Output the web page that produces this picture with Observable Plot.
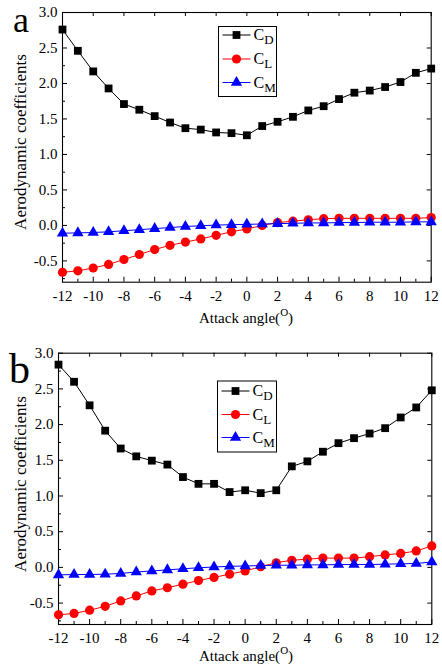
<!DOCTYPE html>
<html><head><meta charset="utf-8">
<script src="https://cdn.jsdelivr.net/npm/d3@7"></script>
<script src="https://cdn.jsdelivr.net/npm/@observablehq/plot@0.6"></script>
<style>
body{margin:0;background:#fff;}
#wrap{position:relative;width:442px;height:666px;font-family:"Liberation Serif","Times New Roman",serif;}
.panel{position:absolute;left:0;}
#overlay{position:absolute;left:0;top:0;pointer-events:none;}
</style></head><body>
<div id="wrap"><div id="pa" class="panel" style="top:0"></div><div id="pb" class="panel" style="top:335px"></div><svg id="overlay" width="442" height="666"></svg></div>
<script>
// ---- data ----
const angles = [-12,-11,-10,-9,-8,-7,-6,-5,-4,-3,-2,-1,0,1,2,3,4,5,6,7,8,9,10,11,12];
const cdA = [2.76,2.46,2.17,1.93,1.71,1.63,1.54,1.45,1.37,1.35,1.31,1.30,1.27,1.40,1.46,1.53,1.62,1.68,1.78,1.87,1.90,1.95,2.02,2.15,2.21];
const clA = [-0.66,-0.64,-0.60,-0.55,-0.48,-0.41,-0.34,-0.28,-0.235,-0.19,-0.14,-0.09,-0.05,0.0,0.04,0.06,0.08,0.095,0.10,0.10,0.10,0.10,0.10,0.10,0.11];
const cmA = [-0.11,-0.105,-0.10,-0.09,-0.075,-0.06,-0.045,-0.03,-0.015,-0.005,0.005,0.01,0.015,0.02,0.025,0.03,0.035,0.035,0.04,0.04,0.045,0.045,0.045,0.05,0.05];
const cdB = [2.84,2.60,2.27,1.915,1.665,1.555,1.495,1.44,1.265,1.17,1.17,1.055,1.08,1.04,1.08,1.415,1.485,1.62,1.74,1.81,1.875,1.95,2.10,2.24,2.48];
const clB = [-0.665,-0.645,-0.60,-0.545,-0.47,-0.40,-0.33,-0.285,-0.235,-0.185,-0.14,-0.095,-0.05,0.01,0.065,0.10,0.115,0.13,0.13,0.13,0.15,0.175,0.195,0.23,0.30];
const cmB = [-0.105,-0.10,-0.10,-0.095,-0.085,-0.065,-0.05,-0.035,-0.02,-0.005,0.005,0.015,0.02,0.025,0.03,0.03,0.035,0.035,0.04,0.04,0.04,0.045,0.05,0.055,0.075];
const xMajor = [-12,-10,-8,-6,-4,-2,0,2,4,6,8,10,12];
const xMinor = [-11,-9,-7,-5,-3,-1,1,3,5,7,9,11];
const yMajor = [-0.5,0.0,0.5,1.0,1.5,2.0,2.5,3.0];
const yMinor = [-0.75,-0.25,0.25,0.75,1.25,1.75,2.25,2.75];
const seriesNames = ["D","L","M"];
const seriesColors = ["#000000","#ff0000","#0000ff"];
const seriesSymbols = ["square","circle","triangle"];
const seriesR = [4.4,4.6,4.2];

function panel(vals, o) {
  const {height, mt, mb, ml, mr} = o;
  const iw = 442 - ml - mr, ih = height - mt - mb;
  const marks = [
    Plot.axisX(xMajor, {tickSize: 0, tickPadding: 8, tickFormat: d => String(d), label: null, fontSize: 15}),
    Plot.axisY(yMajor, {tickSize: 0, tickPadding: 5, tickFormat: d => d.toFixed(1), label: null, fontSize: 15}),
    Plot.tickX(xMajor, {x: d => d, insetTop: ih - 5, stroke: "black"}),
    Plot.tickX(xMinor, {x: d => d, insetTop: ih - 3, stroke: "black"}),
    Plot.tickX(xMajor, {x: d => d, insetBottom: ih - 4, stroke: "black"}),
    Plot.tickY(yMajor, {y: d => d, insetRight: iw - 5, stroke: "black"}),
    Plot.tickY(yMinor, {y: d => d, insetRight: iw - 3, stroke: "black"}),
    Plot.tickY(yMajor, {y: d => d, insetLeft: iw - 4, stroke: "black"}),
    Plot.frame({stroke: "black", strokeWidth: 1.1})
  ];
  vals.forEach((v, i) => {
    const rows = angles.map((a, j) => ({a, v: v[j]}));
    marks.push(Plot.line(rows, {x: "a", y: "v", stroke: seriesColors[i], strokeWidth: 1}));
    marks.push(Plot.dot(rows, {x: "a", y: "v", fill: seriesColors[i], symbol: seriesSymbols[i], r: seriesR[i], stroke: "none"}));
  });
  return Plot.plot({
    width: 442, height, marginTop: mt, marginBottom: mb, marginLeft: ml, marginRight: mr,
    style: {fontFamily: "Liberation Serif", fontSize: "15px", background: "transparent", color: "black"},
    x: {domain: [-12, 12]},
    y: {domain: [-0.8, 3.0]},
    marks
  });
}

document.getElementById("pa").append(panel([cdA, clA, cmA], {height: 335, mt: 12, mb: 53.3, ml: 62, mr: 11.3}));
document.getElementById("pb").append(panel([cdB, clB, cmB], {height: 331, mt: 17.7, mb: 42, ml: 58, mr: 10.7}));

// ---- overlay text & legends ----
const svg = d3.select("#overlay").style("font-family", "'Liberation Serif','Times New Roman',serif");
svg.append("text").attr("x", 13).attr("y", 32).attr("font-size", 36).text("a");
svg.append("text").attr("x", 9).attr("y", 383).attr("font-size", 42).text("b");

function ylabel(cy) {
  svg.append("text").attr("transform", `translate(26,${cy}) rotate(-90)`).attr("text-anchor", "middle")
    .attr("font-size", 17).text("Aerodynamic coefficients");
}
ylabel(142); ylabel(484);

function xlabel(by) {
  const t = svg.append("text").attr("x", 246).attr("y", by).attr("text-anchor", "middle").attr("font-size", 15);
  t.append("tspan").text("Attack angle(");
  t.append("tspan").attr("font-size", 11).attr("dy", -7).text("O");
  t.append("tspan").attr("dy", 7).text(")");
}
xlabel(323); xlabel(661);

function legend(bx, by, bw, bh, rowsY) {
  svg.append("rect").attr("x", bx).attr("y", by).attr("width", bw).attr("height", bh)
    .attr("fill", "white").attr("stroke", "black").attr("stroke-width", 1);
  const syms = {square: d3.symbolSquare, circle: d3.symbolCircle, triangle: d3.symbolTriangle};
  seriesNames.forEach((n, i) => {
    const y = rowsY[i];
    svg.append("line").attr("x1", bx + 4).attr("x2", bx + 32).attr("y1", y).attr("y2", y)
      .attr("stroke", seriesColors[i]).attr("stroke-width", 1);
    svg.append("path").attr("transform", `translate(${bx + 18},${y})`)
      .attr("d", d3.symbol(syms[seriesSymbols[i]], seriesR[i] * seriesR[i] * Math.PI)())
      .attr("fill", seriesColors[i]);
    const t = svg.append("text").attr("x", bx + 35).attr("y", y + 5).attr("font-size", 16);
    t.append("tspan").text("C");
    t.append("tspan").attr("font-size", 13).attr("dy", 4).text(n);
  });
}
legend(218.5, 26.5, 58, 70, [35, 59, 82.5]);
legend(217.5, 381, 59, 71, [391, 414.5, 437.5]);
</script>
</body></html>
